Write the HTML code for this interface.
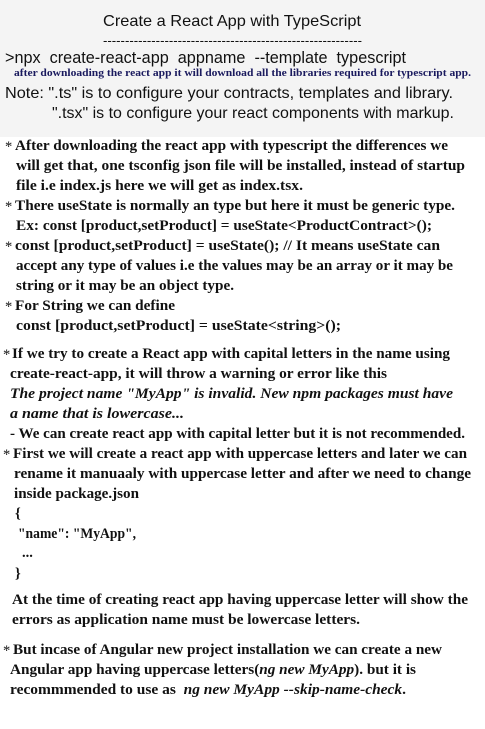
<!DOCTYPE html>
<html><head><meta charset="utf-8"><style>
html,body{margin:0;padding:0;background:#fff;}
svg{display:block;}
text{white-space:pre;}
.s{font-family:"Liberation Sans",Arial,sans-serif;fill:#111;}
.b{font-family:"Liberation Serif",serif;font-weight:bold;font-size:14.5px;fill:#111;}
.i{font-style:italic;}
.a{font-weight:normal;}
</style></head><body>
<svg width="485" height="729" xmlns="http://www.w3.org/2000/svg" xml:space="preserve">
<rect x="0" y="0" width="485" height="137" fill="#f4f4f4"/>
<text class="s" x="103" y="26" font-size="16" textLength="258" lengthAdjust="spacingAndGlyphs">Create a React App with TypeScript</text>
<text class="s" x="103" y="45" font-size="13" textLength="259" lengthAdjust="spacingAndGlyphs">-----------------------------------------------------------</text>
<text class="s" x="5" y="63" font-size="17" textLength="401" lengthAdjust="spacingAndGlyphs">&gt;npx  create-react-app  appname  --template  typescript</text>
<text x="14" y="76" font-family="Liberation Serif,serif" font-weight="bold" font-size="10" fill="#1a1a5e" textLength="457" lengthAdjust="spacingAndGlyphs">after downloading the react app it will download all the libraries required for typescript app.</text>
<text class="s" x="5" y="98" font-size="16" textLength="448" lengthAdjust="spacingAndGlyphs">Note: ".ts" is to configure your contracts, templates and library.</text>
<text class="s" x="52" y="118" font-size="16" textLength="402" lengthAdjust="spacingAndGlyphs">".tsx" is to configure your react components with markup.</text>

<g class="b">
<text class="a" x="5" y="151">*</text>
<text x="15" y="150" textLength="433" lengthAdjust="spacingAndGlyphs">After downloading the react app with typescript the differences we</text>
<text x="16" y="170" textLength="449" lengthAdjust="spacingAndGlyphs">will get that, one tsconfig json file will be installed, instead of startup</text>
<text x="16" y="190" textLength="287" lengthAdjust="spacingAndGlyphs">file i.e index.js here we will get as index.tsx.</text>
<text class="a" x="5" y="211">*</text>
<text x="15" y="210" textLength="440" lengthAdjust="spacingAndGlyphs">There useState is normally an type but here it must be generic type.</text>
<text x="16" y="230" textLength="416" lengthAdjust="spacingAndGlyphs">Ex: const [product,setProduct] = useState&lt;ProductContract&gt;();</text>
<text class="a" x="5" y="251">*</text>
<text x="15" y="250" textLength="425" lengthAdjust="spacingAndGlyphs">const [product,setProduct] = useState(); // It means useState can</text>
<text x="16" y="270" textLength="437" lengthAdjust="spacingAndGlyphs">accept any type of values i.e the values may be an array or it may be</text>
<text x="16" y="290" textLength="218" lengthAdjust="spacingAndGlyphs">string or it may be an object type.</text>
<text class="a" x="5" y="311">*</text>
<text x="15" y="310" textLength="160" lengthAdjust="spacingAndGlyphs">For String we can define</text>
<text x="16" y="330" textLength="325" lengthAdjust="spacingAndGlyphs">const [product,setProduct] = useState&lt;string&gt;();</text>

<text class="a" x="3" y="359">*</text>
<text x="12" y="358" textLength="438" lengthAdjust="spacingAndGlyphs">If we try to create a React app with capital letters in the name using</text>
<text x="10" y="378" textLength="377" lengthAdjust="spacingAndGlyphs">create-react-app, it will throw a warning or error like this</text>
<text class="i" x="10" y="398" textLength="443" lengthAdjust="spacingAndGlyphs">The project name "MyApp" is invalid. New npm packages must have</text>
<text class="i" x="10" y="418" textLength="174" lengthAdjust="spacingAndGlyphs">a name that is lowercase...</text>
<text x="10" y="438" textLength="455" lengthAdjust="spacingAndGlyphs">- We can create react app with capital letter but it is not recommended.</text>
<text class="a" x="3" y="459">*</text>
<text x="13" y="458" textLength="454" lengthAdjust="spacingAndGlyphs">First we will create a react app with uppercase letters and later we can</text>
<text x="14" y="478" textLength="457" lengthAdjust="spacingAndGlyphs">rename it manuaaly with uppercase letter and after we need to change</text>
<text x="14" y="498" textLength="125" lengthAdjust="spacingAndGlyphs">inside package.json</text>
<text x="15" y="518">{</text>
<text x="18" y="538" textLength="118" lengthAdjust="spacingAndGlyphs">"name": "MyApp",</text>
<text x="22" y="557">...</text>
<text x="15" y="578">}</text>
<text x="12" y="604" textLength="456" lengthAdjust="spacingAndGlyphs">At the time of creating react app having uppercase letter will show the</text>
<text x="12" y="624" textLength="348" lengthAdjust="spacingAndGlyphs">errors as application name must be lowercase letters.</text>
<text class="a" x="3" y="655">*</text>
<text x="13" y="654" textLength="429" lengthAdjust="spacingAndGlyphs">But incase of Angular new project installation we can create a new</text>
<text x="10" y="674" textLength="406" lengthAdjust="spacingAndGlyphs">Angular app having uppercase letters(<tspan class="i">ng new MyApp</tspan>). but it is</text>
<text x="10" y="694" textLength="396" lengthAdjust="spacingAndGlyphs">recommmended to use as  <tspan class="i">ng new MyApp --skip-name-check</tspan>.</text>
</g>
</svg>
</body></html>
